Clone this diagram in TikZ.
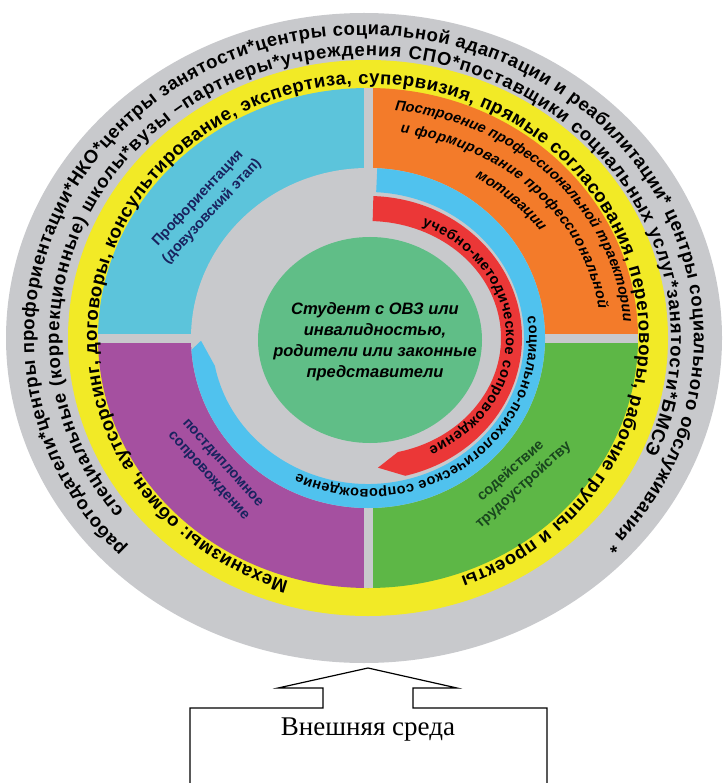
\documentclass[tikz,border=0pt]{standalone}
\usepackage{fontspec}
\setmainfont{Liberation Serif}
\setsansfont{Liberation Sans}
\usetikzlibrary{decorations.text}

\definecolor{ringgray}{RGB}{200,201,204}
\definecolor{ringyellow}{RGB}{242,234,38}
\definecolor{qblue}{RGB}{92,196,219}
\definecolor{qorange}{RGB}{243,123,42}
\definecolor{qgreen}{RGB}{93,183,70}
\definecolor{qmagenta}{RGB}{165,80,160}
\definecolor{arccyan}{RGB}{80,194,238}
\definecolor{arcred}{RGB}{235,55,55}
\definecolor{coregreen}{RGB}{96,190,135}
\definecolor{textnavy}{RGB}{25,35,95}
\definecolor{textgreen}{RGB}{25,70,30}

\newcommand\ringfont{\sffamily\bfseries\fontsize{18.5}{18.5}\selectfont}
\newcommand\arcfont{\sffamily\bfseries\fontsize{14.5}{14.5}\selectfont}
\newcommand\orangefont{\sffamily\bfseries\itshape\fontsize{14.5}{14.5}\selectfont}

\tikzset{
  qlabel/.style={align=center, font=\sffamily\bfseries\fontsize{14.5}{19}\selectfont},
  fitpath/.style={decorate, decoration={text along path, text align=fit to path, text={#1}}},
  midpath/.style={decorate, decoration={text along path, text align=center, text={#1}}}
}

\begin{document}
\begin{tikzpicture}[x=1pt,y=1pt]
\useasboundingbox (0,0) rectangle (726,-783);
\begin{scope}[shift={(368,-338)}]
\fill[ringgray] (-4,0) ellipse [x radius=358, y radius=325];
\fill[ringyellow] (0,0) ellipse [x radius=300, y radius=278];
\fill[qblue] (0,0) -- (90:270 and 250) arc[start angle=90, end angle=180, x radius=270, y radius=250] -- cycle;
\fill[qorange] (0,0) -- (0:270 and 250) arc[start angle=0, end angle=90, x radius=270, y radius=250] -- cycle;
\fill[qgreen] (0,0) -- (-90:270 and 250) arc[start angle=-90, end angle=0, x radius=270, y radius=250] -- cycle;
\fill[qmagenta] (0,0) -- (180:270 and 250) arc[start angle=180, end angle=270, x radius=270, y radius=250] -- cycle;
\draw[ringgray, line width=9] (-270,0) -- (270,0);
\draw[ringgray, line width=9] (0,-250) -- (0,250);
\fill[ringgray] (0,0) ellipse [x radius=177, y radius=170];
\fill[arccyan] (87:177 and 170) arc[start angle=87, end angle=-176, x radius=177, y radius=170]
  -- (-179:167 and 158) -- (-169:156 and 146)
  arc[start angle=-169, end angle=87, x radius=156, y radius=146] -- cycle;
\fill[arcred] (88:154 and 142) arc[start angle=88, end angle=-76, x radius=154, y radius=142]
  -- (-86:143 and 130) -- (-77:133 and 117)
  arc[start angle=-77, end angle=88, x radius=133, y radius=117] -- cycle;
\fill[coregreen] (2,-2) ellipse [x radius=112, y radius=103];

\path[xshift=-4pt, fitpath={|\ringfont|работодатели*центры профориентации*НКО*центры занятости*центры социальной адаптации и реабилитации* центры социального обслуживания *}]
  (224:330 and 303) arc[start angle=224, end angle=-43, x radius=330, y radius=303];
\path[xshift=-3pt, fitpath={|\ringfont|специальные (коррекционные) школы*вузы –партнеры*учреждения СПО*поставщики социальных услуг*занятости*БМСЭ}]
  (218:306 and 282) arc[start angle=218, end angle=-24, x radius=306, y radius=282];
\path[fitpath={|\ringfont|Механизмы: обмен, аутсорсинг, договоры, консультирование, экспертиза, супервизия, прямые согласования, переговоры, рабочие группы и проекты}]
  (253:271 and 254) arc[start angle=253, end angle=-70, x radius=271, y radius=254];

\path[fitpath={|\orangefont|Построение профессиональной траектории}]
  (84:256 and 229) arc[start angle=84, end angle=4, x radius=256, y radius=229];
\path[fitpath={|\orangefont|и формирование профессиональной}]
  (82:233 and 207) arc[start angle=82, end angle=8, x radius=233, y radius=207];
\path[midpath={|\orangefont|мотивации}]
  (62:210 and 186) arc[start angle=62, end angle=32, x radius=210, y radius=186];

\path[fitpath={|\arcfont|учебно-методическое сопровождение}]
  (67:138 and 122) arc[start angle=67, end angle=-64, x radius=138, y radius=122];
\path[fitpath={|\arcfont|социально-психологическое сопровождение}]
  (8:161 and 151) arc[start angle=8, end angle=-116, x radius=161, y radius=151];

\node[align=center, font=\sffamily\bfseries\itshape\fontsize{16.5}{21}\selectfont] (student) at (7,-4)
  {Студент с ОВЗ или\\инвалидностью,\\родители или законные\\представители};
\node[qlabel, rotate=47, text=textnavy] (proforient) at (-163,133) {Профориентация\\(довузовский этап)};
\node[qlabel, rotate=42, text=textgreen] (employ) at (149,-140) {содействие\\трудоустройству};
\node[qlabel, rotate=-48, text=textnavy] (postgrad) at (-153,-132) {постдипломное\\сопровождение};
\end{scope}

\draw[line width=1.2] (190,-783) -- (190,-708) -- (323,-708) -- (323,-688) -- (278,-688) -- (368,-668)
  -- (457,-688) -- (413,-688) -- (413,-708) -- (547,-708) -- (547,-783);
\node[font=\fontsize{27}{30}\selectfont] (environment) at (368,-730) {Внешняя среда};
\end{tikzpicture}
\end{document}
